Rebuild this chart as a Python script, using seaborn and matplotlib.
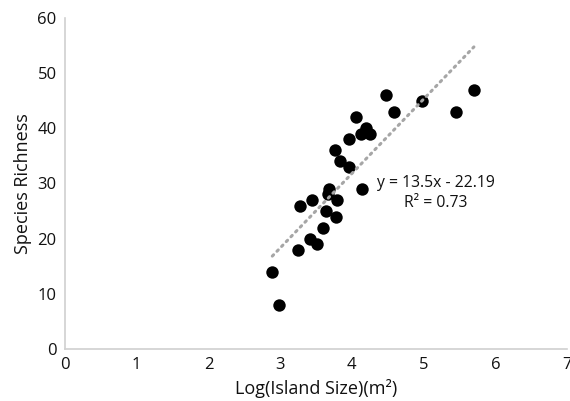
import numpy as np
import pandas as pd
import seaborn as sns
import matplotlib.pyplot as plt

# island size (log m^2) vs species richness
log_size = [2.89, 2.99, 3.25, 3.27, 3.41, 3.45, 3.52, 3.59, 3.64, 3.66, 3.68,
            3.77, 3.78, 3.79, 3.84, 3.96, 3.96, 4.05, 4.13, 4.14, 4.19, 4.25,
            4.47, 4.59, 4.97, 5.45, 5.70]
richness = [14, 8, 18, 26, 20, 27, 19, 22, 25, 28, 29,
            36, 24, 27, 34, 33, 38, 42, 39, 29, 40, 39,
            46, 43, 45, 43, 47]

# trendline as reported on the chart
slope, intercept = 13.5, -22.19
eq_text = "y = 13.5x - 22.19"
r2_text = "R² = 0.73"

df = pd.DataFrame({"log_size": log_size, "richness": richness})

sns.set_style("white")
plt.rcParams['font.family'] = ['Open Sans', 'DejaVu Sans']

fig = plt.figure(figsize=(5.7, 4.01), dpi=100)
ax = fig.add_axes([0.114, 0.130, 0.881, 0.825])

xs = np.array([df.log_size.min(), df.log_size.max()])
ax.plot(xs, slope * xs + intercept, linestyle=(0, (0.6, 1.6)), color='#a6a6a6',
        linewidth=2.2, dash_capstyle='round', zorder=3)
sns.scatterplot(data=df, x="log_size", y="richness", ax=ax, color='black',
                s=80, edgecolor='black', linewidth=0, zorder=2)

ax.text(5.17, 30.1, eq_text, ha='center', va='center', fontsize=11.3, color='#111111')
ax.text(5.17, 26.4, r2_text, ha='center', va='center', fontsize=11.3, color='#111111')

ax.set_xlim(0, 7)
ax.set_ylim(0, 60)
ax.set_xticks(range(0, 8))
ax.set_yticks(range(0, 61, 10))
ax.tick_params(axis='both', length=0, labelsize=12, colors='#111111', pad=6)
ax.set_xlabel("Log(Island Size)(m²)", fontsize=13, color='#111111')
ax.set_ylabel("Species Richness", fontsize=13, color='#111111')

for side in ['top', 'right']:
    ax.spines[side].set_visible(False)
for side in ['left', 'bottom']:
    ax.spines[side].set_color('#d0d0d0')
    ax.spines[side].set_linewidth(1.2)

plt.savefig('out.png', dpi=100)
